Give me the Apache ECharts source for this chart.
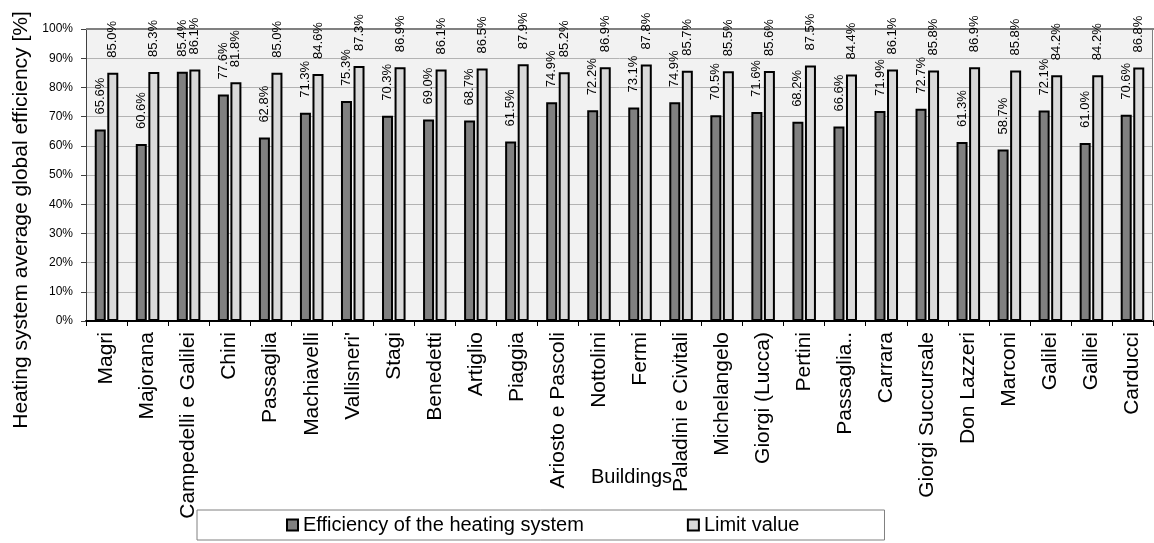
<!DOCTYPE html>
<html>
<head>
<meta charset="utf-8">
<script src="https://cdn.jsdelivr.net/npm/echarts@6/dist/echarts.min.js"></script>
<style>html,body{margin:0;padding:0;background:#fff}#c{width:1154px;height:543px}</style>
</head>
<body>
<div id="c"></div>
<script>
const categories = ["Magri","Majorana","Campedelli e Galilei","Chini","Passaglia","Machiavelli","Vallisneri'","Stagi","Benedetti","Artiglio","Piaggia","Ariosto e Pascoli","Nottolini","Fermi","Paladini e Civitali","Michelangelo","Giorgi (Lucca)","Pertini","Passaglia..","Carrara","Giorgi Succursale","Don Lazzeri","Marconi","Galilei","Galilei","Carducci"];
const efficiency = [65.6,60.6,85.4,77.6,62.8,71.3,75.3,70.3,69.0,68.7,61.5,74.9,72.2,73.1,74.9,70.5,71.6,68.2,66.6,71.9,72.7,61.3,58.7,72.1,61.0,70.6];
const limitValue = [85.0,85.3,86.1,81.8,85.0,84.6,87.3,86.9,86.1,86.5,87.9,85.2,86.9,87.8,85.7,85.5,85.6,87.5,84.4,86.1,85.8,86.9,85.8,84.2,84.2,86.8];
const yTicks = [0,10,20,30,40,50,60,70,80,90,100];

const font = 'Liberation Sans, Arial, sans-serif';
const chart = echarts.init(document.getElementById('c'));
const lbl = {
  show: true, position: 'top', rotate: 90, align: 'left', verticalAlign: 'middle',
  distance: 15, fontSize: 13, color: '#000', fontFamily: font,
  formatter: p => p.value.toFixed(1) + '%'
};
chart.setOption({
  animation: false,
  textStyle: { fontFamily: font },
  grid: { left: 86, right: 1, top: 29, bottom: 222, show: true, backgroundColor: '#f2f2f2', borderWidth: 0,
          containLabel: false, outerBoundsMode: 'none' },
  legend: {
    left: 197, top: 510, padding: [5, 85, 5, 89], itemGap: 103,
    borderColor: '#808080', borderWidth: 1, backgroundColor: '#fff',
    itemWidth: 11, itemHeight: 11, icon: 'rect',
    textStyle: { fontSize: 20, color: '#000', fontFamily: font },
    data: ['Efficiency of the heating system', 'Limit value']
  },
  xAxis: {
    type: 'category', data: categories,
    name: 'Buildings', nameLocation: 'middle', nameGap: 146, nameMoveOverlap: false,
    nameTextStyle: { fontSize: 20, color: '#000', fontFamily: font, padding: [0, 0, 0, 24] },
    axisLine: { lineStyle: { color: '#000', width: 2 } },
    axisTick: { show: true, alignWithLabel: false, length: 5, lineStyle: { color: '#000' } },
    axisLabel: { rotate: 90, fontSize: 21, color: '#000', margin: 11, interval: 0, fontFamily: font, hideOverlap: false }
  },
  yAxis: {
    type: 'value', min: 0, max: 100, interval: 10,
    name: 'Heating system average global efficiency [%]', nameLocation: 'middle', nameGap: 54, nameMoveOverlap: false,
    nameTextStyle: { fontSize: 21, color: '#000', fontFamily: font, padding: [0, 90, 0, 0] },
    axisLine: { show: true, lineStyle: { color: '#404040', width: 1 } },
    axisTick: { show: true, length: 5, lineStyle: { color: '#404040' } },
    axisLabel: { fontSize: 12, color: '#000', margin: 13, fontFamily: font,
      formatter: v => yTicks.includes(v) ? v + '%' : '' },
    splitLine: { lineStyle: { color: '#b3b3b3', width: 1 } }
  },
  graphic: [
    { type: 'line', shape: { x1: 86, y1: 29, x2: 1154, y2: 29 }, style: { stroke: '#808080', lineWidth: 2 }, z: 1 },
    { type: 'line', shape: { x1: 1152.5, y1: 29, x2: 1152.5, y2: 321 }, style: { stroke: '#808080', lineWidth: 1 }, z: 1 }
  ],
  series: [
    { name: 'Efficiency of the heating system', type: 'bar', data: efficiency,
      barWidth: 11, barGap: '14%',
      itemStyle: { color: '#808080', borderColor: '#000', borderWidth: 2 }, label: lbl },
    { name: 'Limit value', type: 'bar', data: limitValue,
      barWidth: 11,
      itemStyle: { color: '#d9d9d9', borderColor: '#000', borderWidth: 2 }, label: lbl }
  ]
});
</script>
</body>
</html>
